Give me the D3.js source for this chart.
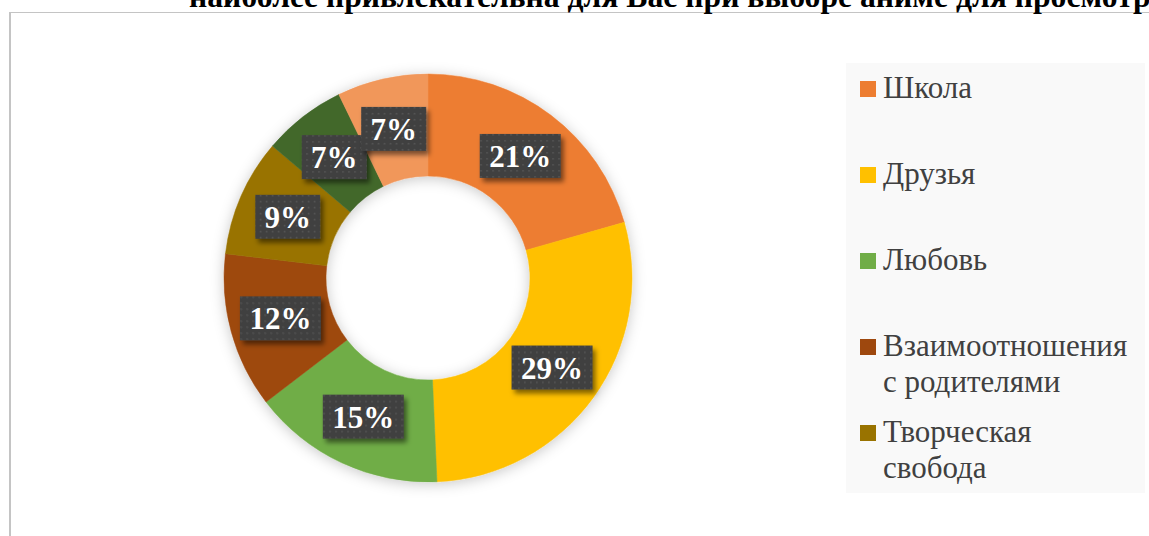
<!DOCTYPE html>
<html>
<head>
<meta charset="utf-8">
<script src="https://cdn.jsdelivr.net/npm/d3@7"></script>
<style>
  html, body { margin: 0; padding: 0; background: #fff; overflow: hidden; }
  svg text { font-family: 'Liberation Serif', 'Times New Roman', 'DejaVu Serif', serif; }
</style>
</head>
<body>
<div id="chart"></div>
<script>
// Data (shares of answers, %)
const categories = ['Школа', 'Друзья', 'Любовь', 'Взаимоотношения с родителями', 'Творческая свобода', 'Другое 1', 'Другое 2'];
const shares = [20.6, 28.7, 15.3, 12.3, 9.3, 6.6, 7.2];
const colors = ['#ED7D31', '#FFC000', '#70AD47', '#9E480E', '#997300', '#43682B', '#F1975A'];
const legendLines = [['Школа'], ['Друзья'], ['Любовь'], ['Взаимоотношения', 'с родителями'], ['Творческая', 'свобода']];
const titleVisible = 'наиболее привлекательна для Вас при выборе аниме для просмотр';
const title = 'наиболее привлекательна для Вас при выборе аниме для просмотра?';

const width = 1149, height = 536;
const cx = 428, cy = 278;
const outerR = 204, innerR = 102;

const svg = d3.select('#chart')
    .append('svg')
    .attr('width', width)
    .attr('height', height);

const defs = svg.append('defs');

// dotted texture of the label boxes
const pat = defs.append('pattern')
    .attr('id', 'dots')
    .attr('width', 6)
    .attr('height', 6)
    .attr('patternUnits', 'userSpaceOnUse');
pat.append('rect').attr('width', 6).attr('height', 6).attr('fill', '#404040');
pat.append('rect').attr('x', 2).attr('y', 2).attr('width', 1.6).attr('height', 1.6).attr('fill', '#555555');

const ringShadow = defs.append('filter')
    .attr('id', 'ringShadow')
    .attr('x', '-20%').attr('y', '-20%')
    .attr('width', '140%').attr('height', '140%');
ringShadow.append('feDropShadow')
    .attr('dx', 0).attr('dy', 2)
    .attr('stdDeviation', 7)
    .attr('flood-color', '#000')
    .attr('flood-opacity', 0.22);

const boxShadow = defs.append('filter')
    .attr('id', 'boxShadow')
    .attr('x', '-30%').attr('y', '-30%')
    .attr('width', '160%').attr('height', '160%');
boxShadow.append('feDropShadow')
    .attr('dx', 3).attr('dy', 4)
    .attr('stdDeviation', 2.5)
    .attr('flood-color', '#000')
    .attr('flood-opacity', 0.5);

// chart frame
svg.append('line')
    .attr('x1', 10).attr('y1', 12.5).attr('x2', width).attr('y2', 12.5)
    .style('stroke', '#c4c4c4').style('stroke-width', 1.2);
svg.append('line')
    .attr('x1', 10).attr('y1', 12).attr('x2', 10).attr('y2', height)
    .style('stroke', '#c4c4c4').style('stroke-width', 2);

// title (its upper part is cut off by the edge, as in the source picture)
const titleText = svg.append('text')
    .attr('x', 189)
    .attr('y', 7)
    .style('font-weight', 'bold')
    .style('font-size', '25px')
    .style('fill', '#000')
    .text(titleVisible);
// fit so that "...просмотр" reaches the right edge
const fitW = titleText.node().getComputedTextLength();
titleText.style('font-size', (25 * 962 / fitW).toFixed(2) + 'px').text(title);

// donut
const pie = d3.pie().sort(null).value(d => d);
const arc = d3.arc().innerRadius(innerR).outerRadius(outerR);
const arcs = pie(shares);

const g = svg.append('g')
    .attr('transform', `translate(${cx}, ${cy})`);

g.append('g')
    .attr('filter', 'url(#ringShadow)')
    .selectAll('path')
    .data(arcs)
    .enter().append('path')
    .attr('d', arc)
    .style('fill', (d, i) => colors[i])
    .style('stroke', (d, i) => colors[i])
    .style('stroke-width', 0.5);

// data labels
const labels = g.selectAll('g.label')
    .data(arcs)
    .enter().append('g')
    .attr('class', 'label')
    .attr('transform', d => `translate(${arc.centroid(d)})`);

labels.each(function(d) {
    const lg = d3.select(this);
    const txt = Math.round(d.data) + '%';
    const boxW = txt.length === 2 ? 65 : 81;
    const boxH = 44;
    lg.append('rect')
        .attr('x', -boxW / 2)
        .attr('y', -boxH / 2)
        .attr('width', boxW)
        .attr('height', boxH)
        .attr('fill', 'url(#dots)')
        .attr('filter', 'url(#boxShadow)');
    lg.append('text')
        .attr('text-anchor', 'middle')
        .attr('y', 11)
        .style('font-weight', 'bold')
        .style('font-size', '31px')
        .style('fill', '#fff')
        .text(txt);
});

// legend
const legend = svg.append('g');
legend.append('rect')
    .attr('x', 846).attr('y', 63)
    .attr('width', 299).attr('height', 430)
    .style('fill', '#f9f9f9');

const legendTop = 98, legendStep = 86, lineStep = 36;
legendLines.forEach((lines, i) => {
    const by = legendTop + i * legendStep;
    legend.append('rect')
        .attr('x', 860).attr('y', by - 17)
        .attr('width', 16).attr('height', 16)
        .style('fill', colors[i]);
    const t = legend.append('text')
        .attr('x', 883).attr('y', by)
        .style('font-size', '31px')
        .style('fill', '#404040');
    lines.forEach((ln, j) => {
        t.append('tspan')
            .attr('x', 883)
            .attr('y', by + j * lineStep)
            .text(ln);
    });
});
</script>
</body>
</html>
